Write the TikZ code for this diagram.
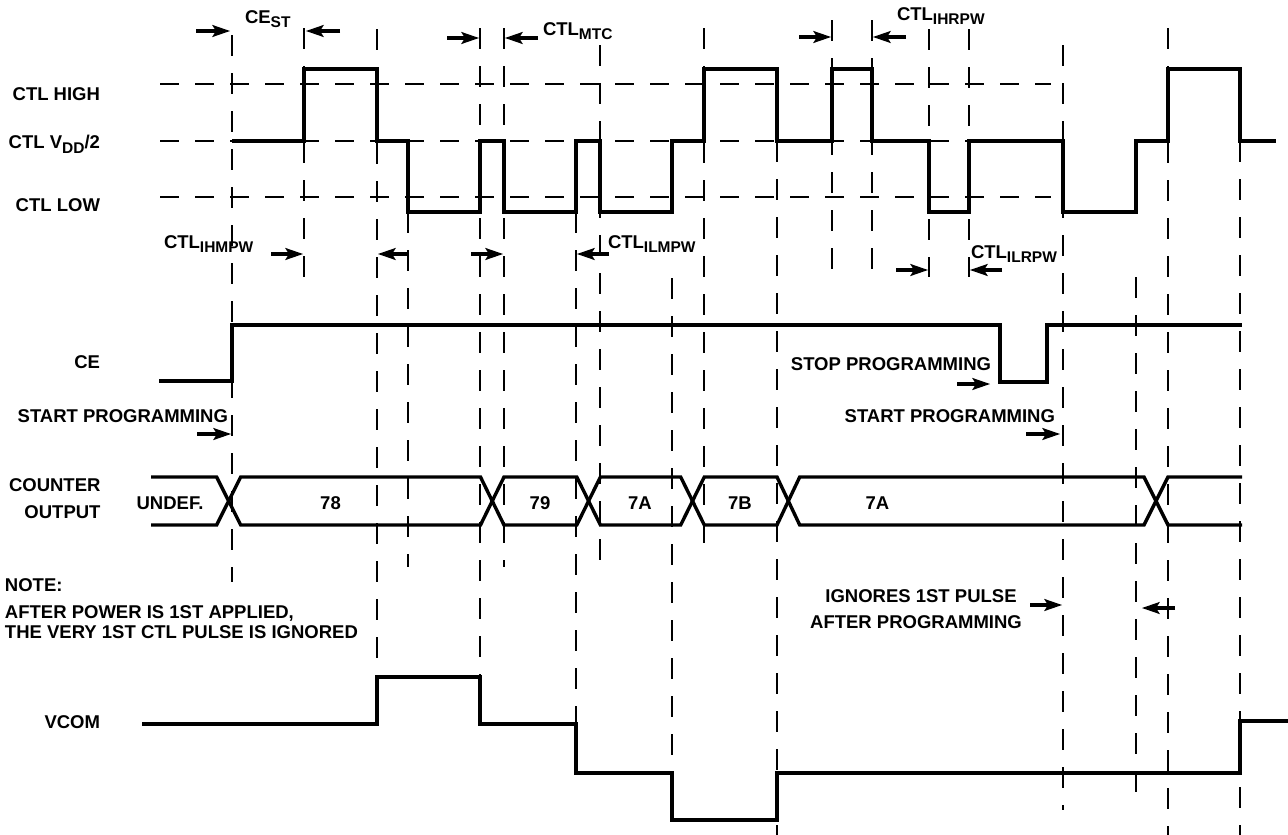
\documentclass[tikz,border=0pt]{standalone}
\usepackage{fontspec}
\setmainfont{Liberation Sans}
\newcommand\subx[1]{\raisebox{-4.5pt}{\fontsize{15.5}{15.5}\selectfont #1}}
\newcommand\harr[3]{%
  \pgfmathsetmacro\arrdir{ifthenelse(#2>#1,1,-1)}%
  \draw[arrshaft] (#1,#3) -- ({#2-10*\arrdir},#3);%
  \fill ({#2},#3) -- ({#2-18*\arrdir},{#3-6.2}) -- ({#2-14*\arrdir},#3)
    -- ({#2-18*\arrdir},{#3+6.2}) -- cycle;}
\begin{document}
\begin{tikzpicture}[x=1pt,y=-1pt,
  font=\fontsize{18.5}{20}\selectfont\bfseries,
  wave/.style={line width=3.4pt},
  hgrid/.style={line width=1.8pt, dash pattern=on 19pt off 16pt},
  vgrid/.style={line width=1.8pt, dash pattern=on 21pt off 17pt},
  arrshaft/.style={line width=3.6pt},
  lbl/.style={inner sep=0pt, outer sep=0pt}]
\useasboundingbox (0,0) rectangle (1288,835);

% level dashed lines
\draw[hgrid] (160,84) -- (1051,84);
\draw[hgrid] (160,141) -- (1051,141);
\draw[hgrid] (160,197) -- (1051,197);

% vertical dashed lines
\foreach \x/\ya/\yb in {232/35/582, 304/28/278, 377/29/677, 408/212/567,
  480/28/677, 504/28/567, 576/212/725, 600/45/567, 672/278/773, 704/28/558,
  777/141/835, 832/20/277, 872/20/277, 929/29/277, 969/29/277,
  1063/45/810, 1136/277/805, 1168/28/835, 1240/141/835}
  \draw[vgrid] (\x,\ya) -- (\x,\yb);

% CTL waveform
\draw[wave] (232,141) -- (304,141) -- (304,69) -- (377,69) -- (377,141)
  -- (408,141) -- (408,212) -- (480,212) -- (480,141) -- (504,141)
  -- (504,212) -- (576,212) -- (576,141) -- (600,141) -- (600,212)
  -- (672,212) -- (672,141) -- (704,141) -- (704,69) -- (777,69)
  -- (777,141) -- (832,141) -- (832,69) -- (872,69) -- (872,141)
  -- (929,141) -- (929,212) -- (969,212) -- (969,141) -- (1063,141)
  -- (1063,212) -- (1136,212) -- (1136,141) -- (1168,141) -- (1168,69)
  -- (1240,69) -- (1240,141) -- (1276,141);

% CE waveform
\draw[wave] (159,381) -- (232,381) -- (232,325) -- (1000,325) -- (1000,382)
  -- (1047,382) -- (1047,325) -- (1242,325);

% counter output bus
\draw[wave] (151,477) -- (216.6,477) -- (240.7,525) -- (480.5,525) -- (504,477)
  -- (576.8,477) -- (600.4,525) -- (680.7,525) -- (704.3,477) -- (777,477)
  -- (799.7,525) -- (1144,525) -- (1168,477) -- (1242,477);
\draw[wave] (151,525) -- (216.6,525) -- (240.7,477) -- (480.5,477) -- (504,525)
  -- (576.8,525) -- (600.4,477) -- (680.7,477) -- (704.3,525) -- (777,525)
  -- (799.7,477) -- (1144,477) -- (1168,525) -- (1242,525);

% VCOM waveform
\draw[wave] (142,724) -- (377,724) -- (377,677) -- (480,677) -- (480,724)
  -- (576,724) -- (576,773) -- (672,773) -- (672,820) -- (777,820)
  -- (777,773) -- (1240,773) -- (1240,721) -- (1288,721);

% timing arrows (tail x, tip x, y)
\harr{196}{230}{31}
\harr{340}{306}{31}
\harr{447}{479}{38}
\harr{538}{505}{38}
\harr{799}{831}{37}
\harr{906}{873}{37}
\harr{271}{303}{254}
\harr{408}{378}{254}
\harr{471}{503}{254}
\harr{609}{577}{254}
\harr{896}{928}{270}
\harr{1002}{970}{270}
\harr{197}{231}{434}
\harr{957}{990}{384}
\harr{1026}{1060}{434}
\harr{1030}{1062}{605}
\harr{1175}{1142}{608}

% left labels
\node[lbl, anchor=base east] (lhigh) at (100,100) {CTL HIGH};
\node[lbl, anchor=base east] (lmid) at (100,148.5) {CTL V\subx{DD}/2};
\node[lbl, anchor=base east] (llow) at (100,211.7) {CTL LOW};
\node[lbl, anchor=base east] (lce) at (100,368) {CE};
\node[lbl, anchor=base east] (lcnt) at (100.5,491.7) {COUNTER};
\node[lbl, anchor=base east] (lout) at (100.5,518.3) {OUTPUT};
\node[lbl, anchor=base east] (lvcom) at (100,728.3) {VCOM};
\node[lbl, anchor=base east] (lstart) at (228,422.7) {START PROGRAMMING};

% note
\node[lbl, anchor=base west] (note1) at (5,591) {NOTE:};
\node[lbl, anchor=base west] (note2) at (5,618.3) {AFTER POWER IS 1ST APPLIED,};
\node[lbl, anchor=base west] (note3) at (5,638.3) {THE VERY 1ST CTL PULSE IS IGNORED};

% counter values
\node[lbl, anchor=base] (vundef) at (170,509.3) {UNDEF.};
\node[lbl, anchor=base] (v78) at (330.5,509.3) {78};
\node[lbl, anchor=base] (v79) at (540,509.3) {79};
\node[lbl, anchor=base] (v7a) at (640,509.3) {7A};
\node[lbl, anchor=base] (v7b) at (740,509.3) {7B};
\node[lbl, anchor=base] (v7a2) at (877.5,509.3) {7A};

% timing labels
\node[lbl, anchor=base west] (cest) at (245,23.3) {CE\subx{ST}};
\node[lbl, anchor=base west] (ctlmtc) at (543,35) {CTL\subx{MTC}};
\node[lbl, anchor=base west] (ctlihrpw) at (897,20) {CTL\subx{IHRPW}};
\node[lbl, anchor=base west] (ctlihmpw) at (164,248.3) {CTL\subx{IHMPW}};
\node[lbl, anchor=base west] (ctlilmpw) at (608,248.3) {CTL\subx{ILMPW}};
\node[lbl, anchor=base west] (ctlilrpw) at (971,258.3) {CTL\subx{ILRPW}};

% right annotations
\node[lbl, anchor=base east] (stop) at (991,370) {STOP PROGRAMMING};
\node[lbl, anchor=base east] (start2) at (1055,422.3) {START PROGRAMMING};
\node[lbl, anchor=base] (ign1) at (921,602.7) {IGNORES 1ST PULSE};
\node[lbl, anchor=base] (ign2) at (916,628.3) {AFTER PROGRAMMING};
\end{tikzpicture}
\end{document}
